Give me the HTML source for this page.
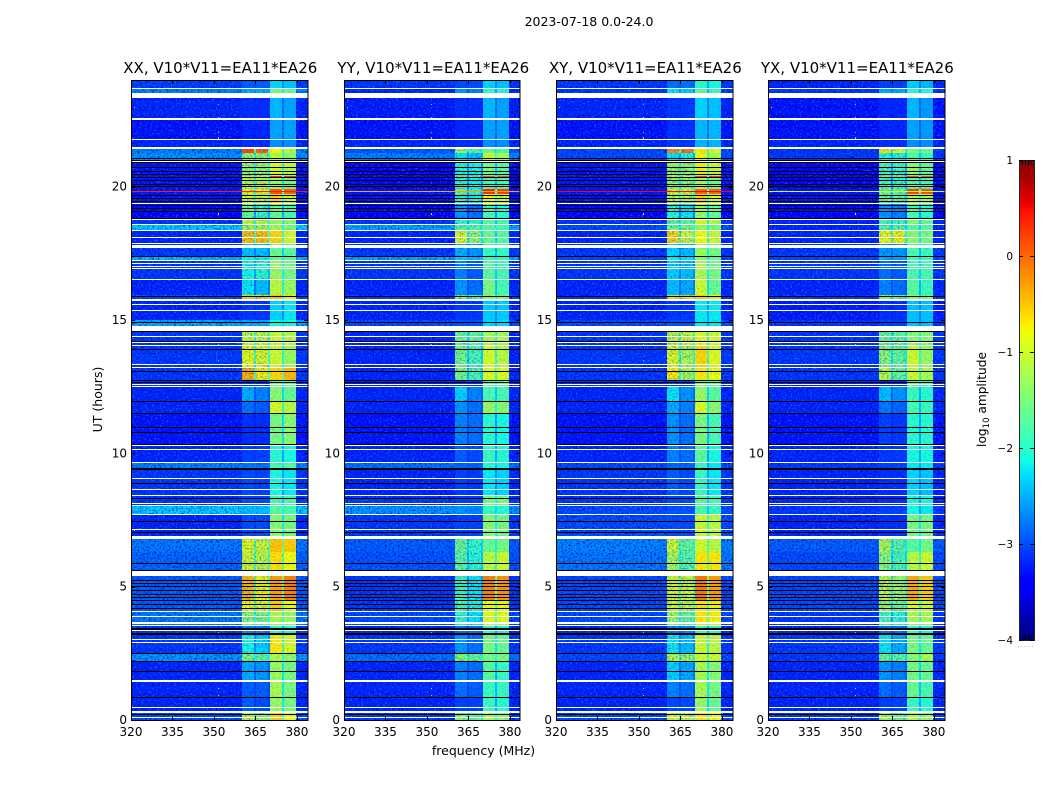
<!DOCTYPE html>
<html>
<head>
<meta charset="utf-8">
<title>2023-07-18 0.0-24.0</title>
<style>
html,body{margin:0;padding:0;background:#fff;width:1050px;height:800px;overflow:hidden}
svg{display:block}
text{font-family:"DejaVu Sans","Liberation Sans",sans-serif;fill:#000}
</style>
</head>
<body>
<svg id="figure" xmlns="http://www.w3.org/2000/svg" width="1050" height="800" viewBox="0 0 1050 800">
  <defs>
    <filter id="speckle-light" x="0" y="0" width="100%" height="100%" color-interpolation-filters="sRGB">
      <feTurbulence type="fractalNoise" baseFrequency="0.55 0.6" numOctaves="1" seed="3"/>
      <feColorMatrix values="0 0 0 0 0  0 0 0 0 0.6  0 0 0 0 1  2.6 0 0 0 -1.35"/>
    </filter>
    <filter id="speckle-dark" x="0" y="0" width="100%" height="100%" color-interpolation-filters="sRGB">
      <feTurbulence type="fractalNoise" baseFrequency="0.55 0.6" numOctaves="1" seed="11"/>
      <feColorMatrix values="0 0 0 0 0  0 0 0 0 0  0 0 0 0 0.75  0 2.6 0 0 -1.2"/>
    </filter>
  </defs>
  <text x="589" y="26" text-anchor="middle" font-size="12.5">2023-07-18 0.0-24.0</text>
  <text x="483.5" y="755" text-anchor="middle" font-size="12.5">frequency (MHz)</text>
  <text x="0" y="0" transform="translate(102,399.5) rotate(-90)" text-anchor="middle" font-size="12.5">UT (hours)</text>
  <text x="0" y="0" transform="translate(986,399.5) rotate(-90)" text-anchor="middle" font-size="12.2">log<tspan font-size="8.5" dy="3">10</tspan><tspan dy="-3"> amplitude</tspan></text>
  <g id="panels"></g>
  <g id="colorbar"></g>
</svg>
<script>
// ---- chart data ----
var panelTitles = ["XX, V10*V11=EA11*EA26", "YY, V10*V11=EA11*EA26", "XY, V10*V11=EA11*EA26", "YX, V10*V11=EA11*EA26"];
var freqTicks = [320, 335, 350, 365, 380];
var utTicks = [0, 5, 10, 15, 20];
var colorTicks = [-4, -3, -2, -1, 0, 1];
var colorLabels = ["\u22124", "\u22123", "\u22122", "\u22121", "0", "1"];

// frequency zones in MHz: channel groups A, B, C, D
var zoneA = [360.1, 364.5];
var zoneB = [365.2, 369.5];
var zoneC = [370.2, 374.6];
var zoneD = [375.3, 379.5];

// upper UT of every time band; the lowest band ends at 0
var bandTops = [24, 23.7, 23.33, 22.5, 21.75, 21.41, 21.26, 20.89, 20.4, 20.33, 19.91, 19.73, 19.35, 18.79, 18.56, 18.34, 17.89, 17.4, 17.21, 16.5, 15.94, 15.71, 15, 14.59, 14.03, 13.24, 12.75, 12.49, 11.96, 11.48, 10.28, 9.64, 9.38, 8.4, 8.06, 7.69, 6.79, 6.3, 5.4, 4.5, 4.05, 3.53, 3.19, 2.48, 2.18, 1.43, 0.83, 0.26];

// log10 amplitude per band: [background, A, B, C, D]
var xxLevels = [
[-3.05,-2.9,-2.9,-2.3,-2.4],[-2.7,-2.5,-2.5,-1.5,-1.6],[-3.2,-3.15,-3.15,-2.45,-2.55],[-3.3,-3.2,-3.2,-2.55,-2.55],[-3.2,-3.15,-3.15,-2.65,-2.65],
[-2.7,0.15,0,-0.8,-1.1],[-2.6,-1.4,-1.4,-1.1,-1.4],[-3.3,-1.3,-1.3,-0.9,-1.1],[-3.3,-1,-1,0.3,0.3],[-3.3,-1.1,-1.1,-1.3,-1.5],
[-3.3,-0.9,-0.8,0.1,0],[-3.3,-1,-1,-0.6,-1],[-3.4,-1.6,-1.9,-1.6,-1.8],[-3.1,-1.1,-1.1,-1.3,-1.4],[-2.3,-1.3,-1.2,-1.3,-1.5],
[-3.2,-0.5,-0.5,-0.6,-0.95],[-3.1,-2.4,-2.4,-1.6,-1.7],[-2.4,-2.1,-2.1,-1.6,-1.7],[-3.1,-2.1,-2,-1.3,-1.5],[-3.2,-2.2,-2.4,-1.1,-1.3],
[-3,-0.6,-0.6,-0.5,-0.7],[-3.2,-3.1,-3.1,-2.3,-2.2],[-2.5,-2.5,-2.5,-2.1,-2.1],[-3.1,-1.1,-1.1,-1,-1.1],[-3.1,-0.85,-0.9,-1,-1.3],
[-3.1,-0.4,-0.75,-0.6,-0.45],[-3.1,-3.1,-3.1,-1.6,-1.6],[-3.2,-2.5,-2.7,-1.4,-1.6],[-3.2,-2.8,-2.9,-0.9,-1.1],[-3.3,-3.15,-3.15,-1.5,-1.4],
[-3.2,-3.05,-3.05,-2,-2.1],[-2.7,-2.8,-2.8,-1.8,-1.7],[-3.1,-3,-3.05,-2.1,-2.2],[-3.1,-3,-3,-1.8,-1.8],[-2.3,-2.4,-2.4,-1.7,-1.8],
[-3.2,-3,-3,-1.4,-1.5],[-2.75,-0.9,-1,-0.5,-0.55],[-2.85,-1,-1.1,-0.65,-0.8],[-2.9,-0.45,-0.75,-0.3,-0.15],[-2.9,-0.8,-0.9,-0.55,-0.8],
[-2.75,-1.4,-1.5,-1.2,-1.3],[-3.1,-2.7,-2.7,-2,-2.1],[-3.1,-2.1,-2.3,-0.7,-0.95],[-2.6,-1.5,-1.7,-1.2,-1.4],[-3.2,-2.5,-2.6,-1.3,-1.5],
[-3.2,-2.9,-2.9,-1.2,-1.5],[-3.2,-2.9,-3,-1.3,-1.5],[-3,-1.1,-1.3,-0.6,-0.8]];
var yyLevels = [
[-3.1,-3,-3,-2.3,-2.4],[-3.2,-2.6,-2.7,-1.9,-2],[-3.25,-3.15,-3.15,-2.45,-2.55],[-3.3,-3.2,-3.2,-2.55,-2.55],[-3.2,-3.15,-3.15,-2.65,-2.65],
[-2.9,-1.2,-1.6,-1.6,-1.7],[-2.7,-2.2,-2.4,-1,-1.2],[-3.4,-2,-2.1,-1.5,-1.7],[-3.4,-1.8,-2,0.1,0.1],[-3.4,-1.9,-2.1,-1.8,-1.8],
[-3.3,-1.5,-1.9,0.3,0.2],[-3.3,-2,-2.1,-0.8,-1],[-3.4,-2.6,-2.8,-1.8,-2],[-3.1,-1.9,-1.9,-1.7,-1.8],[-2.5,-1.7,-1.7,-1.7,-1.8],
[-3.2,-0.9,-1.4,-1.6,-1.7],[-3.1,-2.5,-2.6,-1.9,-1.9],[-2.5,-2.3,-2.4,-1.9,-1.9],[-3.1,-2.7,-2.9,-1.7,-1.8],[-3.2,-2.6,-2.8,-1.5,-1.8],
[-3.1,-1.4,-1.7,-1.3,-1.4],[-3.2,-3.1,-3.1,-2.35,-2.35],[-3,-2.95,-2.95,-2.3,-2.3],[-3.2,-1.6,-1.6,-1.2,-1.2],[-3.2,-1.5,-1.8,-0.95,-1.1],
[-3.2,-1.5,-1.8,-0.9,-0.9],[-3.2,-3.1,-3.1,-1.6,-1.6],[-3.2,-2.3,-2.7,-1.8,-1.8],[-3.2,-2.6,-2.8,-1.3,-1.4],[-3.3,-2.7,-2.8,-2,-2.1],
[-3.2,-2.9,-3,-1.9,-2],[-2.8,-2.85,-2.9,-2,-2.1],[-3.2,-3.05,-3.1,-2.2,-2.3],[-3.1,-3.05,-3.05,-1.5,-1.5],[-2.6,-2.6,-2.7,-1.9,-2],
[-3.1,-3.05,-3.05,-1.4,-1.5],[-2.9,-1.6,-1.9,-1.6,-1.5],[-2.95,-1.7,-2,-1.1,-1],[-3.1,-1.9,-2.2,-0.15,-0.25],[-3.1,-1.8,-2,-0.8,-0.8],
[-3,-1.9,-2.2,-0.9,-0.9],[-3.2,-2.8,-2.8,-2,-2.1],[-3.1,-2.6,-2.8,-1.5,-1.6],[-2.8,-1.4,-1.6,-1.5,-1.5],[-3.2,-2.7,-2.8,-1.7,-1.9],
[-3.2,-2.8,-2.9,-1.9,-1.9],[-3.2,-3.05,-3.05,-1.9,-2],[-3.1,-1.4,-1.6,-1.2,-1.4]];
var xyLevels = [
[-3.1,-2.8,-2.8,-2,-2.1],[-3.1,-2.2,-2.3,-1.7,-1.9],[-3.2,-3.1,-3.1,-2.3,-2.4],[-3.3,-3.15,-3.15,-2.45,-2.45],[-3.2,-3.1,-3.1,-2.45,-2.45],
[-3,-0.2,-0.1,-0.7,-1],[-3,-2.2,-2.1,-0.8,-1.2],[-3.3,-1.3,-1.3,-0.75,-1],[-3.3,-1,-1,0.25,0.25],[-3.3,-1.3,-1.4,-1.2,-1.5],
[-3.3,-1,-1,0,0],[-3.3,-1.1,-1.1,-0.6,-0.9],[-3.4,-2,-2.2,-1.3,-1.6],[-3.1,-1.6,-1.6,-0.9,-1.2],[-3,-1.6,-1.5,-1.3,-1.5],
[-3.2,-0.6,-1,-0.8,-1],[-3.1,-2.3,-2.4,-1.3,-1.5],[-3,-2.1,-2.2,-1.4,-1.6],[-3.1,-2.3,-2.4,-1.2,-1.5],[-3.2,-2.4,-2.5,-1,-1.6],
[-3.1,-0.7,-0.7,-0.6,-0.7],[-3.2,-3.1,-3.1,-2.2,-2.2],[-3,-2.95,-2.95,-2.2,-2.2],[-3.1,-1.1,-1,-0.9,-1],[-3.1,-0.9,-1.2,-0.6,-0.9],
[-3.1,-0.7,-1.2,-0.7,-0.8],[-3.1,-3.05,-3.05,-1.5,-1.5],[-3.2,-2.2,-2.6,-1.3,-1.7],[-3.2,-2.5,-2.7,-0.9,-1.4],[-3.3,-2.6,-2.8,-1.5,-1.8],
[-3.2,-2.7,-2.8,-1.7,-2.1],[-3,-2.85,-2.85,-1.9,-2.2],[-3.1,-2.9,-3,-1.9,-2.2],[-3.1,-3,-3,-1.7,-1.8],[-3,-2.95,-2.95,-1.8,-1.9],
[-3,-3,-3,-1,-1.1],[-2.7,-1,-1.6,-0.95,-1.1],[-2.75,-1.2,-1.7,-0.7,-0.7],[-3,-0.95,-1,-0.1,-0.3],[-3,-1,-1.1,-0.7,-0.75],
[-3,-1.3,-1.6,-0.7,-0.75],[-3.2,-2.7,-2.7,-1.9,-2],[-3.1,-2.2,-2.4,-1,-1.1],[-3,-1.2,-1.3,-1,-1],[-3.2,-2.3,-2.5,-1.2,-1.4],
[-3.2,-2.7,-2.8,-1.2,-1.5],[-3.2,-3,-3,-1.3,-1.6],[-3,-0.9,-1,-0.7,-0.8]];
var yxLevels = [
[-3.2,-3.05,-3.05,-2.35,-2.45],[-3.1,-2.5,-2.5,-2,-2],[-3.3,-3.2,-3.2,-2.45,-2.6],[-3.3,-3.2,-3.2,-2.55,-2.6],[-3.2,-3.15,-3.15,-2.65,-2.65],
[-3.1,-0.7,-0.9,-1.5,-1.5],[-3.1,-2,-2,-1.7,-1.9],[-3.4,-1.8,-1.9,-1.3,-1.6],[-3.4,-1.6,-1.8,0.1,0.1],[-3.4,-1.8,-1.9,-1.7,-1.8],
[-3.3,-1.5,-1.6,0.2,0.1],[-3.3,-1.6,-1.7,-1.1,-1.2],[-3.4,-2.6,-2.7,-1.8,-2],[-3.2,-1.8,-1.8,-1.4,-1.6],[-3.2,-1.7,-1.7,-1.7,-1.7],
[-3.2,-0.8,-0.75,-1.4,-1.5],[-3.1,-2.6,-2.6,-1.8,-1.9],[-3,-2.5,-2.5,-1.8,-1.9],[-3.1,-2.8,-2.9,-1.8,-1.8],[-3.2,-2.7,-2.8,-1.7,-1.9],
[-3.1,-1.3,-1.6,-1.3,-1.4],[-3.25,-3.15,-3.15,-2.4,-2.4],[-3.1,-3.05,-3.05,-2.4,-2.4],[-3.1,-1.6,-1.6,-1.4,-1.4],[-3.1,-1.4,-1.6,-1,-1.3],
[-3.1,-1.1,-1.6,-1,-1.2],[-3.2,-3.15,-3.15,-1.6,-1.7],[-3.2,-2.4,-2.6,-1.9,-2],[-3.2,-2.75,-2.85,-1.8,-1.9],[-3.3,-3.05,-3.1,-2,-2],
[-3.2,-3.1,-3.1,-2.1,-2.1],[-3.1,-3.05,-3.05,-2.2,-2.2],[-3.2,-3.15,-3.15,-2.3,-2.4],[-3.2,-3.15,-3.15,-2.1,-2.1],[-3.1,-3.05,-3.05,-2.1,-2.2],
[-3.2,-3.15,-3.15,-1.5,-1.5],[-2.9,-1.2,-1.7,-1.7,-1.5],[-3,-1.4,-1.8,-1.1,-1],[-3,-1.1,-1.3,-0.35,-0.55],[-3,-1.3,-1.6,-0.9,-1],
[-3.1,-1.8,-2,-1.2,-1.2],[-3.2,-2.8,-2.8,-2,-2.1],[-3.1,-2.2,-2.5,-1.5,-1.6],[-3.1,-1.6,-1.7,-1.4,-1.2],[-3.2,-2.6,-2.7,-1.5,-1.6],
[-3.2,-2.8,-2.9,-1.6,-1.8],[-3.2,-3.05,-3.05,-1.9,-2],[-3.1,-1.2,-1.5,-1.1,-1.3]];

// RFI stripe near 19.84 UT, one amplitude per panel
var rfiStripeUT = 19.84;
var rfiStripeLevels = [0.4, -0.3, 0.5, -1];

// isolated RFI points: frequency (MHz), UT, log10 amplitude
var rfiFreqs = [351.4, 351.4, 351.4, 351.4, 351.4, 351.4, 351.4, 351.4, 351.4, 351.4, 351.4, 351.4, 351.4, 321, 321];
var rfiTimes = [23.7, 23.1, 22.6, 22.05, 21.85, 19.4, 19.0, 14.1, 13.5, 13.1, 3.3, 1.2, 0.95, 23.0, 7.15];
var rfiValues = [-1.4, -2, -1.8, -2, -2, -1.5, -1, -2, -2, -2, -2, -1.9, -1.9, -2, -1.6];

// flagged (white) time ranges: [top UT, bottom UT]
var whiteFlags = [[23.7,23.66],[23.51,23.33],[22.58,22.5],[21.79,21.75],[21.49,21.41],[20.96,20.93],[19.39,19.35],[18.79,18.75],[18.6,18.56],[18.38,18.34],[18.11,18.08],[17.89,17.85],[17.81,17.7],[17.25,17.21],[17.14,17.1],[17.03,16.99],[16.95,16.91],[16.54,16.5],[15.79,15.71],[15.6,15.56],[15.38,15.34],[14.78,14.59],[14.4,14.36],[14.18,14.14],[14.06,14.03],[13.35,13.31],[13.24,13.2],[12.6,12.56],[12.53,12.49],[10.31,10.28],[10.16,10.13],[9.68,9.64],[9.08,9.04],[8.66,8.63],[8.44,8.4],[8.14,8.1],[8.06,8.03],[7.73,7.69],[7.16,7.13],[6.9,6.79],[5.59,5.4],[4.09,4.05],[3.9,3.86],[3.68,3.6],[3.56,3.53],[3.38,3.34],[3.04,3],[2.93,2.89],[1.5,1.43],[0.49,0.45],[0.34,0.26],[0.11,0.08]];
// zero-amplitude (black) time ranges: [top UT, bottom UT]
var blackFlags = [[21.08,21.04],[21,20.96],[20.93,20.89],[20.74,20.7],[20.59,20.55],[20.48,20.44],[20.36,20.33],[20.25,20.21],[20.1,20.06],[20.03,19.99],[19.69,19.65],[19.58,19.54],[19.46,19.43],[19.31,19.28],[19.2,19.16],[19.09,19.05],[18.83,18.79],[17.4,17.36],[15.9,15.86],[14.93,14.89],[14.59,14.55],[14.21,14.18],[13.91,13.88],[13.09,13.05],[12.75,12.71],[12.68,12.64],[11.96,11.93],[11.51,11.48],[10.99,10.95],[10.8,10.76],[10.35,10.31],[9.45,9.38],[8.89,8.85],[8.33,8.29],[7.46,7.43],[7.05,7.01],[5.89,5.85],[5.63,5.59],[5.25,5.21],[5.14,5.1],[5.03,4.99],[4.88,4.84],[4.73,4.69],[4.61,4.58],[4.5,4.46],[4.35,4.31],[4.2,4.16],[3.45,3.38],[3.26,3.19],[2.51,2.48],[2.21,2.18],[1.84,1.8],[0.86,0.83],[0.23,0.19]];

var panelLevels = [xxLevels, yyLevels, xyLevels, yxLevels];
var panelKeys = ["xx", "yy", "xy", "yx"];

// ---- axis functions ----
var SVGNS = "http://www.w3.org/2000/svg";
var panelLefts = [131, 344, 556, 768];
var panelWidths = [177, 176, 177, 177];
var plotWidth = 177, plotTop = 80, plotBottom = 720;
var FREQ_MIN = 320, FREQ_MAX = 384, UT_MAX = 24, LOG_MIN = -4, LOG_MAX = 1;
var cbLeft = 1019, cbRight = 1034, cbTop = 160, cbBottom = 640;

function xScale(left, f) { return left + (f - FREQ_MIN) / (FREQ_MAX - FREQ_MIN) * plotWidth; }
function yScale(t) { return plotBottom - t / UT_MAX * (plotBottom - plotTop); }
function cbScale(v) { return cbBottom - (v - LOG_MIN) / (LOG_MAX - LOG_MIN) * (cbBottom - cbTop); }

function clamp01(a) { return Math.max(0, Math.min(1, a)); }
function interp(points, f) {
  for (var i = 1; i < points.length; i++) {
    if (f <= points[i][0]) {
      var a = points[i - 1], b = points[i];
      return a[1] + (b[1] - a[1]) * (f - a[0]) / (b[0] - a[0]);
    }
  }
  return points[points.length - 1][1];
}
var jetR = [[0, 0], [0.35, 0], [0.66, 1], [0.89, 1], [1, 0.5]];
var jetG = [[0, 0], [0.125, 0], [0.375, 1], [0.64, 1], [0.91, 0], [1, 0]];
var jetB = [[0, 0.5], [0.11, 1], [0.34, 1], [0.65, 0], [1, 0]];
function jet(v) {
  var f = clamp01((v - LOG_MIN) / (LOG_MAX - LOG_MIN));
  return "rgb(" + Math.round(255 * interp(jetR, f)) + "," + Math.round(255 * interp(jetG, f)) + "," + Math.round(255 * interp(jetB, f)) + ")";
}
function node(tag, parent, props) {
  var el = document.createElementNS(SVGNS, tag);
  for (var k in props) { el.setAttribute(k, props[k]); }
  parent.appendChild(el);
  return el;
}
function cellRect(parent, left, f0, f1, t0, t1, fill) {
  var x0 = Math.round(xScale(left, f0)), x1 = Math.round(xScale(left, f1));
  var y0 = Math.round(yScale(t0)), y1 = Math.round(yScale(t1));
  return node("rect", parent, { x: x0, y: y0, width: Math.max(1, x1 - x0), height: Math.max(1, y1 - y0), fill: fill, "shape-rendering": "crispEdges" });
}

// ---- draw panels ----
var panelsRoot = document.getElementById("panels");
panelTitles.forEach(function (title, p) {
  var left = panelLefts[p], levels = panelLevels[p], key = panelKeys[p], width = panelWidths[p];
  var g = node("g", panelsRoot, {});
  
  

  var titleEl = node("text", g, { x: left + plotWidth / 2 + 0.8, y: 73, "text-anchor": "middle", "font-size": 15 });
  
  
  titleEl.textContent = title;

  levels.forEach(function (row, b) {
    var top = bandTops[b], bottom = b + 1 < bandTops.length ? bandTops[b + 1] : 0;
    var bandGroup = node("g", g, {});
    
    
    cellRect(bandGroup, left, FREQ_MIN, FREQ_MAX, top, bottom, jet(row[0]));
    cellRect(bandGroup, left, zoneA[0], zoneA[1], top, bottom, jet(row[1]));
    cellRect(bandGroup, left, zoneA[1], zoneB[0], top, bottom, jet(row[0] * 0.4 + Math.min(row[1], row[2]) * 0.6));
    cellRect(bandGroup, left, zoneB[0], zoneB[1], top, bottom, jet(row[2]));
    cellRect(bandGroup, left, zoneB[1], zoneC[0], top, bottom, jet(row[0] * 0.4 + Math.min(row[2], row[3]) * 0.6));
    cellRect(bandGroup, left, zoneC[0], zoneC[1], top, bottom, jet(row[3]));
    cellRect(bandGroup, left, zoneC[1], zoneD[0], top, bottom, jet(row[0] * 0.4 + Math.min(row[3], row[4]) * 0.6));
    cellRect(bandGroup, left, zoneD[0], zoneD[1], top, bottom, jet(row[4]));
  });

  // speckle texture: strongest over the quiet background, fainter over the channel groups
  [[FREQ_MIN, zoneA[0], 1], [zoneA[0], zoneB[1], 0.5], [zoneB[1], zoneD[1], 0.2], [zoneD[1], FREQ_MAX, 1]].forEach(function (span) {
    var sx0 = Math.round(xScale(left, span[0])), sx1 = Math.round(xScale(left, span[1]));
    var noiseA = node("rect", g, { x: sx0, y: plotTop, width: sx1 - sx0, height: plotBottom - plotTop, filter: "url(#speckle-light)", opacity: span[2] });
    
    
    var noiseB = node("rect", g, { x: sx0, y: plotTop, width: sx1 - sx0, height: plotBottom - plotTop, filter: "url(#speckle-dark)", opacity: span[2] });
    
    
  });

  var stripe = cellRect(g, left, FREQ_MIN, FREQ_MAX, rfiStripeUT, rfiStripeUT - 0.03, jet(rfiStripeLevels[p]));
  
  

  rfiFreqs.forEach(function (f, i) {
    var pt = cellRect(g, left, f, f + 0.5, rfiTimes[i], rfiTimes[i] - 0.05, jet(rfiValues[i]));
    
    
  });

  blackFlags.forEach(function (range) {
    var r = cellRect(g, left, FREQ_MIN, FREQ_MAX, range[0], range[1], "#000");
    
    
  });
  whiteFlags.forEach(function (range) {
    var r = cellRect(g, left, FREQ_MIN, FREQ_MAX, range[0], range[1], "#fff");
    
    
  });

  var mask = node("rect", g, { x: left + width, y: plotTop, width: 3, height: plotBottom - plotTop + 1, fill: "#fff" });
  
  

  var frame = node("rect", g, { x: left + 0.5, y: plotTop + 0.5, width: width - 0.5, height: plotBottom - plotTop, fill: "none", stroke: "#000", "stroke-width": 1, "shape-rendering": "crispEdges" });
  
  

  freqTicks.forEach(function (f) {
    var x = Math.round(xScale(left, f)) + 0.5;
    var t1 = node("line", g, { x1: x, x2: x, y1: plotBottom, y2: plotBottom - 4, stroke: "#000", "shape-rendering": "crispEdges" });
    
    
    var t2 = node("line", g, { x1: x, x2: x, y1: plotTop, y2: plotTop + 4, stroke: "#000", "shape-rendering": "crispEdges" });
    
    
    var lbl = node("text", g, { x: xScale(left, f), y: 736, "text-anchor": "middle", "font-size": 12 });
    
    
    lbl.textContent = f;
  });
  utTicks.forEach(function (t) {
    var y = Math.round(yScale(t)) + 0.5;
    var t1 = node("line", g, { x1: left, x2: left + 4, y1: y, y2: y, stroke: "#000", "shape-rendering": "crispEdges" });
    
    
    var t2 = node("line", g, { x1: left + width, x2: left + width - 4, y1: y, y2: y, stroke: "#000", "shape-rendering": "crispEdges" });
    
    
    var lbl = node("text", g, { x: left - 4, y: yScale(t) + 4, "text-anchor": "end", "font-size": 12 });
    
    
    lbl.textContent = t;
  });
});

// ---- draw colorbar ----
var cbRoot = document.getElementById("colorbar");
for (var py = cbTop; py < cbBottom; py++) {
  var v = LOG_MIN + (cbBottom - py - 0.5) / (cbBottom - cbTop) * (LOG_MAX - LOG_MIN);
  var strip = node("rect", cbRoot, { x: cbLeft, y: py, width: cbRight - cbLeft, height: 1, fill: jet(v), "shape-rendering": "crispEdges" });
  
  
}
var cbFrame = node("rect", cbRoot, { x: cbLeft + 0.5, y: cbTop + 0.5, width: cbRight - cbLeft, height: cbBottom - cbTop, fill: "none", stroke: "#222", "shape-rendering": "crispEdges" });


colorTicks.forEach(function (v, i) {
  var y = Math.round(cbScale(v)) + 0.5;
  var a = node("line", cbRoot, { x1: cbLeft, x2: cbLeft + 4, y1: y, y2: y, stroke: "#000", "shape-rendering": "crispEdges" });
  
  
  var b = node("line", cbRoot, { x1: cbRight, x2: cbRight - 4, y1: y, y2: y, stroke: "#000", "shape-rendering": "crispEdges" });
  
  
  var lbl = node("text", cbRoot, { x: cbLeft - 6, y: cbScale(v) + 4, "text-anchor": "end", "font-size": 10.5 });
  
  
  lbl.textContent = colorLabels[i];
});
[3, 6, 9, 12].forEach(function (dx) {
  var up = node("line", cbRoot, { x1: cbLeft + dx + 0.5, x2: cbLeft + dx + 0.5, y1: cbTop, y2: cbTop + 5, stroke: "#000", "shape-rendering": "crispEdges" });
  
  
  var dn = node("line", cbRoot, { x1: cbLeft + dx + 0.5, x2: cbLeft + dx + 0.5, y1: cbBottom, y2: cbBottom - 5, stroke: "#000", "shape-rendering": "crispEdges" });
  
  
});
var dots = node("text", cbRoot, { x: 1026, y: 647, "text-anchor": "middle", "font-size": 6, "letter-spacing": 1 });


dots.style.fill = "#777";
dots.textContent = "......";
</script>
</body>
</html>
